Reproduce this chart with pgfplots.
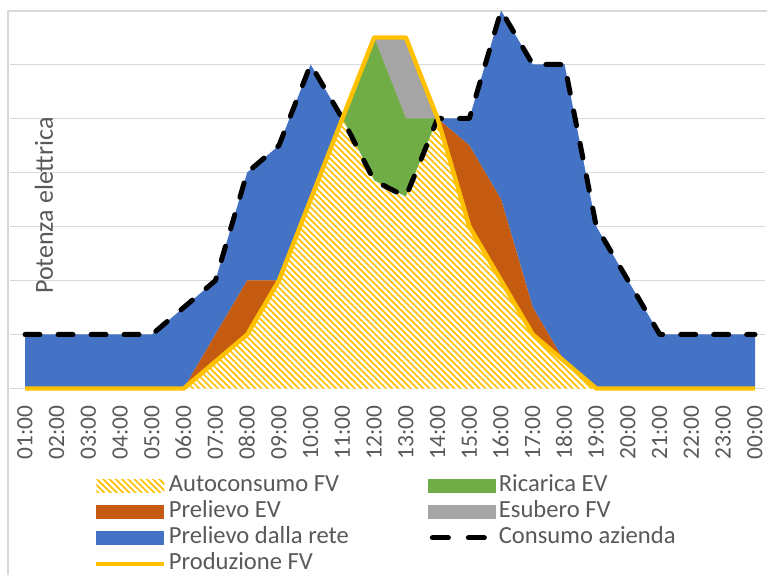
\documentclass[border=0pt]{standalone}
\usepackage{fontspec}
\setmainfont{Carlito}
\usepackage{pgfplots}
\pgfplotsset{compat=1.18}
\usetikzlibrary{patterns.meta}

\definecolor{cBlue}{HTML}{4472C4}
\definecolor{cOrange}{HTML}{C55A11}
\definecolor{cGreen}{HTML}{70AD47}
\definecolor{cGray}{HTML}{A5A5A5}
\definecolor{cYellow}{HTML}{FFC000}
\definecolor{textgray}{HTML}{595959}
\definecolor{gridcol}{HTML}{D9D9D9}

\newcommand\tickfont{\fontsize{11.7bp}{14bp}\selectfont}
\newcommand\legfont{\fontsize{12.3bp}{14bp}\selectfont}
\newcommand\titlefont{\fontsize{13bp}{15bp}\selectfont}

\pgfplotsset{
  common/.style={
    at={(5bp,93.25bp)}, anchor=south west,
    scale only axis, width=377.5bp, height=189bp,
    xmin=-0.4726, xmax=23.315, ymin=0, ymax=7,
    clip=false,
  },
  arealeg/.style={legend image code/.code={\path[##1,draw=none] (0bp,-3.3bp) rectangle (34bp,3.3bp);}},
  lineleg/.style={legend image code/.code={\draw[##1] (0bp,0bp) -- (34bp,0bp);}},
  dashleg/.style={legend image code/.code={\draw[##1] (2bp,0bp) -- (28bp,0bp);}},
}

\begin{document}
\begin{tikzpicture}
\path[use as bounding box] (0,0) rectangle (383.5bp,287.5bp);
\draw[gridcol, line width=0.6bp] (386bp,282bp) -- (4bp,282bp) -- (4bp,0bp);
\begin{axis}[
  common,
  stack plots=y,
  axis line style={draw=none},
  major tick length=0pt,
  ytick={0,1,2,3,4,5,6,7}, yticklabels={},
  ymajorgrids, grid style={gridcol, line width=0.75bp},
  xtick={0,1,...,23},
  xticklabels={01:00,02:00,03:00,04:00,05:00,06:00,07:00,08:00,09:00,10:00,11:00,12:00,13:00,14:00,15:00,16:00,17:00,18:00,19:00,20:00,21:00,22:00,23:00,00:00},
  xticklabel style={rotate=90, anchor=east, inner sep=0pt, text height=7.4bp, text depth=0pt, font=\tickfont, text=textgray},
  xticklabel shift=8.5bp,
  ylabel={Potenza elettrica},
  every axis y label/.style={at={(axis description cs:0.045,0.484)}, rotate=90, anchor=center, font=\titlefont, text=textgray},
  legend columns=2,
  legend cell align=left,
  legend style={at={(axis description cs:0.1113,-0.2302)}, anchor=north west,
    draw=none, fill=none, font=\legfont, text=textgray, inner sep=0pt,
    row sep=3bp,
    nodes={inner xsep=1.25bp, inner ysep=0pt, text height=8bp, text depth=2bp},
    /tikz/every even column/.append style={column sep=38.5bp}},
]
% Autoconsumo FV
\addplot[arealeg, draw=none, preaction={fill=white},
  pattern={Lines[angle=-45,distance=2.2bp,line width=0.85bp]}, pattern color=cYellow]
  coordinates {(0,0)(1,0)(2,0)(3,0)(4,0)(5,0)(6,0.5)(7,1)(8,2)(9,3.5)(10,5)(11,3.85)(12,3.55)(13,5)(14,3)(15,2)(16,1)(17,0.5)(18,0)(19,0)(20,0)(21,0)(22,0)(23,0)} \closedcycle;
\addlegendentry{Autoconsumo FV}
% Ricarica EV
\addplot[arealeg, draw=none, fill=cGreen]
  coordinates {(0,0)(1,0)(2,0)(3,0)(4,0)(5,0)(6,0)(7,0)(8,0)(9,0)(10,0)(11,2.65)(12,1.45)(13,0)(14,0)(15,0)(16,0)(17,0)(18,0)(19,0)(20,0)(21,0)(22,0)(23,0)} \closedcycle;
\addlegendentry{Ricarica EV}
% Prelievo EV
\addplot[arealeg, draw=none, fill=cOrange]
  coordinates {(0,0)(1,0)(2,0)(3,0)(4,0)(5,0)(6,0.5)(7,1)(8,0)(9,0)(10,0)(11,0)(12,0)(13,0)(14,1.5)(15,1.5)(16,0.5)(17,0)(18,0)(19,0)(20,0)(21,0)(22,0)(23,0)} \closedcycle;
\addlegendentry{Prelievo EV}
% Esubero FV
\addplot[arealeg, draw=none, fill=cGray]
  coordinates {(0,0)(1,0)(2,0)(3,0)(4,0)(5,0)(6,0)(7,0)(8,0)(9,0)(10,0)(11,0)(12,1.5)(13,0)(14,0)(15,0)(16,0)(17,0)(18,0)(19,0)(20,0)(21,0)(22,0)(23,0)} \closedcycle;
\addlegendentry{Esubero FV}
% Prelievo dalla rete
\addplot[arealeg, draw=none, fill=cBlue]
  coordinates {(0,1)(1,1)(2,1)(3,1)(4,1)(5,1.5)(6,1)(7,2)(8,2.5)(9,2.5)(10,0)(11,0)(12,0)(13,0)(14,0.5)(15,3.5)(16,4.5)(17,5.5)(18,3)(19,2)(20,1)(21,1)(22,1)(23,1)} \closedcycle;
\addlegendentry{Prelievo dalla rete}
\addlegendimage{dashleg, black, line width=2.5bp, line cap=round, dash pattern=on 8bp off 10bp}
\addlegendentry{Consumo azienda}
\addlegendimage{lineleg, cYellow, line width=2bp}
\addlegendentry{Produzione FV}
\end{axis}
\begin{axis}[common, hide axis]
% Consumo azienda
\addplot[black, line width=2.5bp, line cap=round, line join=round, dash pattern=on 7.5bp off 9bp]
  coordinates {(0,1)(1,1)(2,1)(3,1)(4,1)(5,1.5)(6,2)(7,4)(8,4.5)(9,6)(10,5)(11,3.85)(12,3.55)(13,5)(14,5)(15,7)(16,6)(17,6)(18,3)(19,2)(20,1)(21,1)(22,1)(23,1)};
% Produzione FV
\addplot[cYellow, line width=2.2bp, line join=round]
  coordinates {(0,0)(1,0)(2,0)(3,0)(4,0)(5,0)(6,0.5)(7,1)(8,2)(9,3.5)(10,5)(11,6.5)(12,6.5)(13,5)(14,3)(15,2)(16,1)(17,0.5)(18,0)(19,0)(20,0)(21,0)(22,0)(23,0)};
\end{axis}
\end{tikzpicture}
\end{document}
